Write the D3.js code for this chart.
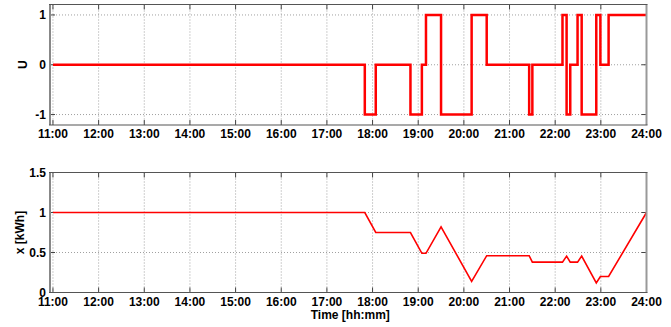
<!DOCTYPE html>
<html><head><meta charset="utf-8">
<script src="https://cdn.jsdelivr.net/npm/d3@7/dist/d3.min.js"></script>
<style>body{margin:0;background:#fff}svg text{font-family:"Liberation Sans",Arial,sans-serif;font-weight:bold;font-size:12px;fill:#000}</style>
</head><body><svg id="c" width="671" height="327"></svg>
<script>
// Data
const hourTicks = [11,12,13,14,15,16,17,18,19,20,21,22,23,24];
const hourLabels = ["11:00","12:00","13:00","14:00","15:00","16:00","17:00","18:00","19:00","20:00","21:00","22:00","23:00","24:00"];
const uTimes = [11, 17.83, 18.07, 18.83, 19.08, 19.17, 19.5, 20.17, 20.5, 21.43, 21.5, 22.16, 22.25, 22.33, 22.49, 22.58, 22.9, 22.99, 23.17, 24];
const uValues = [0, -1, 0, -1, 0, 1, -1, 1, 0, -1, 0, 1, -1, 0, 1, -1, 1, 0, 1, 1];
const xTimes = [11, 17.83, 18.07, 18.83, 19.08, 19.17, 19.5, 20.17, 20.5, 21.43, 21.5, 22.16, 22.25, 22.33, 22.49, 22.58, 22.9, 22.99, 23.17, 24];
const xValues = [1, 1, 0.75, 0.75, 0.49, 0.49, 0.82, 0.14, 0.46, 0.46, 0.38, 0.38, 0.455, 0.38, 0.38, 0.455, 0.12, 0.20, 0.20, 1.0];
const uTicks = [-1, 0, 1];
const xTicks = [0, 0.5, 1, 1.5];
const xTickLabels = ["0","0.5","1","1.5"];

const svg = d3.select("#c");
const L = 50, R = 646.5;
const x = d3.scaleLinear().domain([10.935, 24]).range([L, R]);

function panel(top, bottom, yDomain, yTicks, yLabels, yTitle, times, vals, curve, lw) {
  const y = d3.scaleLinear().domain(yDomain).range([bottom, top]);
  const g = svg.append("g");
  // grid
  g.selectAll(".vg").data(hourTicks).join("line")
    .attr("x1", d => x(d)).attr("x2", d => x(d)).attr("y1", top).attr("y2", bottom)
    .attr("stroke", "#888").attr("stroke-width", 0.8).attr("stroke-dasharray", "1,2");
  g.selectAll(".hg").data(yTicks).join("line")
    .attr("x1", L).attr("x2", R).attr("y1", d => y(d)).attr("y2", d => y(d))
    .attr("stroke", "#888").attr("stroke-width", 0.8).attr("stroke-dasharray", "1,2");
  // ticks
  const tl = 5;
  hourTicks.forEach(t => {
    g.append("line").attr("x1", x(t)).attr("x2", x(t)).attr("y1", bottom).attr("y2", bottom - tl).attr("stroke", "#444");
    g.append("line").attr("x1", x(t)).attr("x2", x(t)).attr("y1", top).attr("y2", top + tl).attr("stroke", "#444");
  });
  yTicks.forEach(v => {
    g.append("line").attr("x1", L).attr("x2", L + tl).attr("y1", y(v)).attr("y2", y(v)).attr("stroke", "#444");
    g.append("line").attr("x1", R).attr("x2", R - tl).attr("y1", y(v)).attr("y2", y(v)).attr("stroke", "#444");
  });
  // data line
  const pts = times.map((t, i) => [t, vals[i]]);
  g.append("path").datum(pts)
    .attr("d", d3.line().x(d => x(d[0])).y(d => y(d[1])).curve(curve))
    .attr("fill", "none").attr("stroke", "#ff0000").attr("stroke-width", lw).attr("stroke-linejoin", "miter");
  // frame
  g.append("line").attr("x1", L).attr("x2", L).attr("y1", top).attr("y2", bottom).attr("stroke", "#888").attr("stroke-width", 2);
  g.append("line").attr("x1", R).attr("x2", R).attr("y1", top).attr("y2", bottom).attr("stroke", "#999").attr("stroke-width", 2);
  g.append("line").attr("x1", L - 1).attr("x2", R + 1).attr("y1", top).attr("y2", top).attr("stroke", "#555").attr("stroke-width", 1.2);
  g.append("line").attr("x1", L - 1).attr("x2", R + 1).attr("y1", bottom).attr("y2", bottom).attr("stroke", "#555").attr("stroke-width", 1.2);
  // y tick labels
  g.selectAll(".yl").data(yTicks).join("text")
    .attr("x", L - 4).attr("y", d => y(d)).attr("dy", "0.35em").attr("text-anchor", "end")
    .text((d, i) => yLabels[i]);
  // x tick labels
  g.selectAll(".xl").data(hourTicks).join("text")
    .attr("x", d => x(d)).attr("y", bottom + 13).attr("text-anchor", "middle")
    .text((d, i) => hourLabels[i]);
  // y title
  const cy = (top + bottom) / 2;
  g.append("text").attr("transform", `translate(${yTitle.x},${cy}) rotate(-90)`)
    .attr("text-anchor", "middle").text(yTitle.text);
  return y;
}

panel(4.5, 125, [-1.21, 1.21], uTicks, ["-1","0","1"], {x: 27, text: "U"}, uTimes, uValues, d3.curveStepAfter, 2.5);
panel(172.5, 292.5, [0, 1.5], xTicks, xTickLabels, {x: 24, text: "x [kWh]"}, xTimes, xValues, d3.curveLinear, 1.6);

svg.append("text").attr("x", (L + R) / 2 + 2).attr("y", 319).attr("text-anchor", "middle").text("Time [hh:mm]");
</script>
</body></html>
